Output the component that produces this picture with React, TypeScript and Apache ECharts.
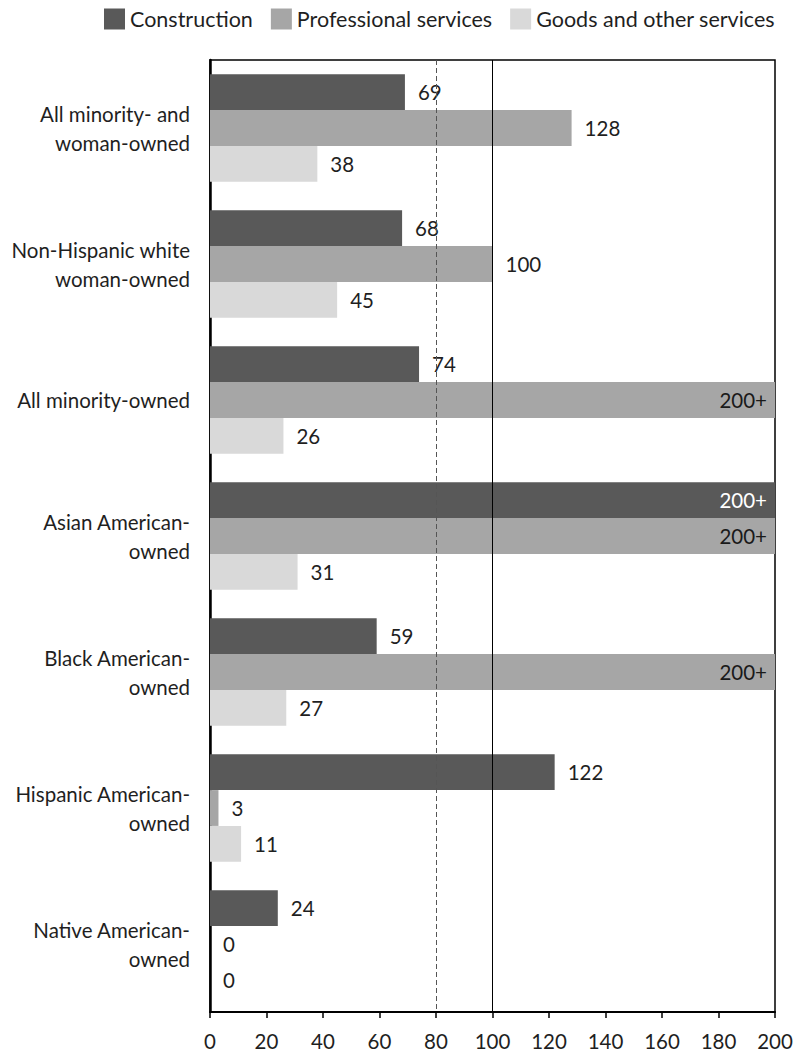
import React, { useEffect, useRef } from "react";
import * as echarts from "echarts";

const categories = [
  "All minority- and\nwoman-owned",
  "Non-Hispanic white\nwoman-owned",
  "All minority-owned",
  "Asian American-\nowned",
  "Black American-\nowned",
  "Hispanic American-\nowned",
  "Native American-\nowned",
];
const seriesNames = ["Construction", "Professional services", "Goods and other services"];
// 200 means "200+" (beyond axis max)
const construction = [69, 68, 74, 200, 59, 122, 24];
const professional = [128, 100, 200, 200, 200, 3, 0];
const goods = [38, 45, 26, 31, 27, 11, 0];
const xTicks = [0, 20, 40, 60, 80, 100, 120, 140, 160, 180, 200];
const CAP = 200;
const refDashed = 80;
const refSolid = 100;

const colors = ["#595959", "#a6a6a6", "#d9d9d9"];
const capLabelColors = ["#ffffff", "#1a1a1a", "#1a1a1a"];
const FONT = "Lato, 'Open Sans', sans-serif";
const TEXT = "#1f1f1f";
const FS = 20.5;

export default function App() {
  const ref = useRef<HTMLDivElement>(null);
  useEffect(() => {
    if (!ref.current) return;
    const chart = echarts.init(ref.current, null, { renderer: "svg" });
    const all = [construction, professional, goods];
    const series: any[] = all.map((vals, si) => ({
      name: seriesNames[si],
      type: "bar",
      barGap: "0%",
      barCategoryGap: "21%",
      itemStyle: { color: colors[si] },
      label: {
        show: true,
        position: "right",
        distance: 13,
        fontFamily: FONT,
        fontSize: FS,
        color: TEXT,
        formatter: (p: any) => (p.value >= CAP ? CAP + "+" : String(p.value)),
      },
      data: vals.map((v) =>
        v >= CAP
          ? {
              value: v,
              label: { position: "insideRight", distance: 8, color: capLabelColors[si] },
            }
          : v
      ),
      markLine:
        si === 0
          ? {
              silent: true,
              symbol: "none",
              label: { show: false },
              data: [
                { xAxis: refDashed, lineStyle: { type: [5, 3], color: "#555", width: 1 } },
                { xAxis: refSolid, lineStyle: { type: "solid", color: "#000", width: 1 } },
              ],
            }
          : undefined,
      z: 2,
    }));
    chart.setOption({
      animation: false,
      textStyle: { fontFamily: FONT },
      legend: {
        top: 3,
        left: 99,
        itemWidth: 21,
        itemHeight: 21,
        itemGap: 18,
        textStyle: { fontFamily: FONT, fontSize: 21.5, color: TEXT },
        data: seriesNames.map((n) => ({ name: n, icon: "rect" })),
      },
      grid: {
        left: 210,
        right: 21,
        top: 60,
        bottom: 40,
        show: true,
        borderColor: "#000",
        borderWidth: 1.5,
        containLabel: false,
      },
      xAxis: {
        type: "value",
        min: xTicks[0],
        max: xTicks[xTicks.length - 1],
        interval: 20,
        axisLine: { show: true, lineStyle: { color: "#000", width: 2 } },
        axisTick: { show: true, length: 6, lineStyle: { color: "#000", width: 1.5 } },
        axisLabel: { fontFamily: FONT, fontSize: FS, color: TEXT, margin: 18 },
        splitLine: { show: false },
      },
      yAxis: {
        type: "category",
        inverse: true,
        data: categories,
        axisLine: { show: true, lineStyle: { color: "#000", width: 2.5 } },
        axisTick: { show: false },
        axisLabel: {
          fontFamily: FONT,
          fontSize: FS,
          color: TEXT,
          margin: 20,
          lineHeight: 29,
          align: "right",
        },
      },
      series,
    });
    return () => chart.dispose();
  }, []);
  return (
    <div
      ref={ref}
      style={{ position: "fixed", left: 0, top: 0, width: 796, height: 1052, background: "#fff" }}
    />
  );
}
